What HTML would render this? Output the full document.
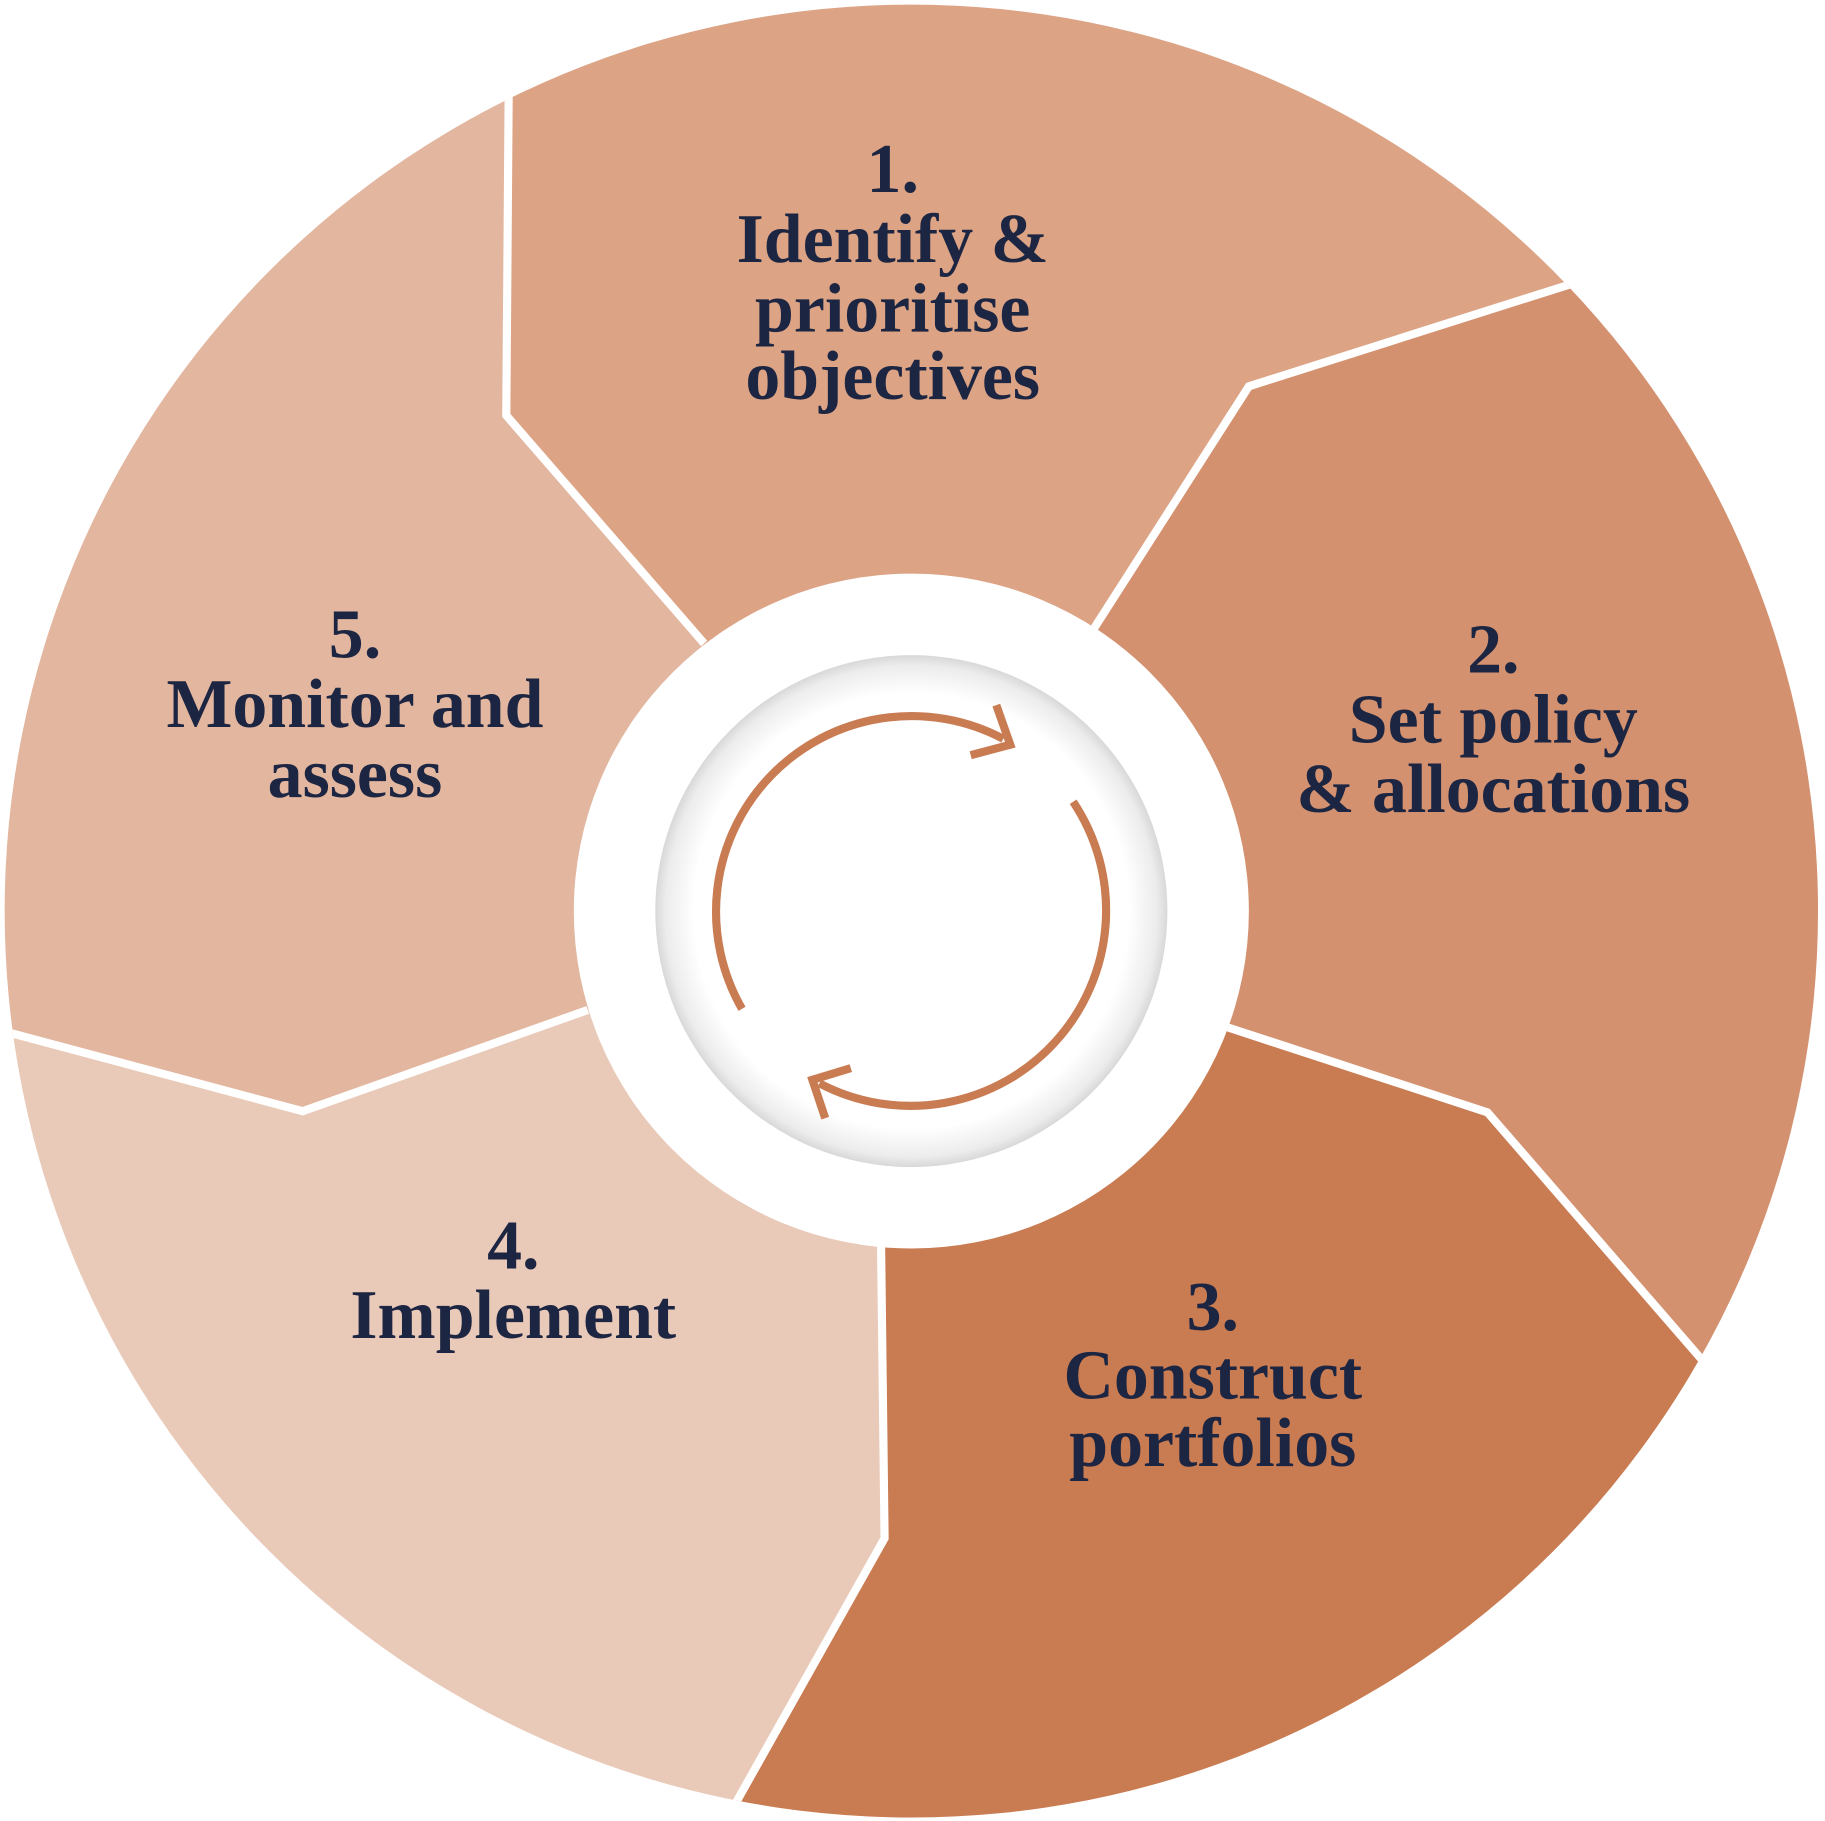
<!DOCTYPE html>
<html><head><meta charset="utf-8"><style>html,body{margin:0;padding:0;background:#fff;overflow:hidden;width:1825px;height:1821px}svg{display:block}</style></head>
<body>
<svg width="1825" height="1821" viewBox="0 0 1568 1565" preserveAspectRatio="none" xmlns="http://www.w3.org/2000/svg">
<defs>
<clipPath id="c"><circle cx="783" cy="783" r="779"/></clipPath>
<radialGradient id="g" cx="50%" cy="50%" r="50%">
<stop offset="0.85" stop-color="#ffffff"/><stop offset="0.96" stop-color="#ececec"/><stop offset="1" stop-color="#d8d8d8"/>
</radialGradient>
</defs>
<g clip-path="url(#c)">
<polygon fill="#dca385" points="783,783 605,553 435,357 437,85 438,-100 1700,-100 1700,133 1347,245 1073,332 940,540"/>
<polygon fill="#d4916f" points="783,783 940,540 1073,332 1347,245 1700,133 1700,1443 1460,1166 1278,956 1055,883"/>
<polygon fill="#c97b52" points="783,783 1055,883 1278,956 1460,1166 1700,1443 1700,1714 540,1714 633,1548 760,1322 757,1070"/>
<polygon fill="#e9c9b8" points="783,783 757,1070 760,1322 633,1548 540,1714 -150,1714 -150,845 10,888 260,955 505,868"/>
<polygon fill="#e2b69f" points="783,783 505,868 260,955 10,888 -150,845 -150,-100 438,-100 437,85 435,357 605,553"/>
<g fill="none" stroke="#fff" stroke-width="7">
<polyline points="605,553 435,357 437,85 438,-100"/>
<polyline points="940,540 1073,332 1347,245 1700,133"/>
<polyline points="1055,883 1278,956 1460,1166 1700,1443"/>
<polyline points="757,1070 760,1322 633,1548 540,1714"/>
<polyline points="505,868 260,955 10,888 -150,845"/>
</g>
</g>
<circle cx="783" cy="783" r="290" fill="#fff"/>
<circle cx="783" cy="783" r="220" fill="url(#g)"/>
<g fill="none" stroke="#c97b52" stroke-width="7">
<path d="M637.5,867 A168,168 0 0 1 862,635"/>
<polyline points="856,606 868,640 834,649"/>
<path d="M922,689 A168,168 0 0 1 704,931"/>
<polyline points="731,918 698,928 709,961"/>
</g>
<g font-family="'Liberation Serif',serif" font-weight="bold" font-size="60" fill="#1c2541" text-anchor="middle">
<text x="767" y="165">1.</text>
<text x="767" y="225">Identify &amp;</text>
<text x="767" y="285">prioritise</text>
<text x="767" y="343">objectives</text>
<text x="1283" y="578">2.</text>
<text x="1283" y="638">Set policy</text>
<text x="1283" y="698">&amp; allocations</text>
<text x="1042" y="1143">3.</text>
<text x="1042" y="1202">Construct</text>
<text x="1042" y="1260">portfolios</text>
<text x="441" y="1090">4.</text>
<text x="441" y="1150">Implement</text>
<text x="305" y="565">5.</text>
<text x="305" y="625">Monitor and</text>
<text x="305" y="685">assess</text>
</g>
</svg>
</body></html>
